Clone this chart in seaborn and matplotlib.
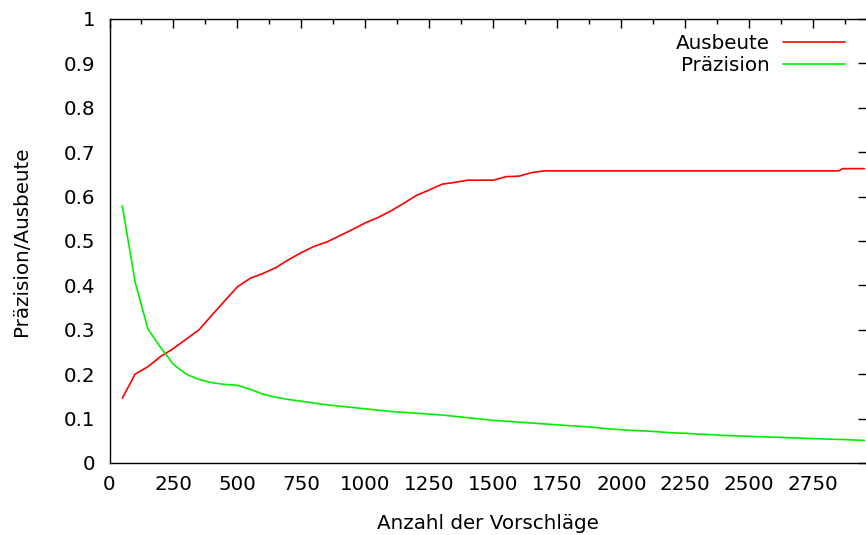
import matplotlib
matplotlib.use("Agg")
import matplotlib.pyplot as plt
import seaborn as sns
import pandas as pd
import numpy as np
from matplotlib.ticker import MultipleLocator, FuncFormatter

# Data
suggestions = [50, 100, 150, 200, 250, 300, 350, 400, 450, 500,
               550, 600, 650, 700, 750, 800, 850, 900, 950, 1000,
               1050, 1100, 1150, 1200, 1250, 1300, 1350, 1400, 1450, 1500,
               1550, 1600, 1650, 1700, 1750, 1800, 1850, 1900, 1950, 2000,
               2050, 2100, 2150, 2200, 2250, 2300, 2350, 2400, 2450, 2500,
               2550, 2600, 2650, 2700, 2750, 2800, 2850, 2865, 2900, 2950]

recall = [0.146, 0.200, 0.217, 0.240, 0.258, 0.279, 0.300, 0.333, 0.365, 0.397,
          0.416, 0.427, 0.440, 0.458, 0.474, 0.488, 0.498, 0.512, 0.526, 0.541,
          0.553, 0.568, 0.585, 0.603, 0.615, 0.628, 0.632, 0.637, 0.637, 0.637,
          0.645, 0.646, 0.654, 0.658, 0.658, 0.658, 0.658, 0.658, 0.658, 0.658,
          0.658, 0.658, 0.658, 0.658, 0.658, 0.658, 0.658, 0.658, 0.658, 0.658,
          0.658, 0.658, 0.658, 0.658, 0.658, 0.658, 0.658, 0.663, 0.663, 0.663]

precision = [0.579, 0.408, 0.302, 0.260, 0.222, 0.200, 0.188, 0.181, 0.177, 0.175,
             0.166, 0.155, 0.148, 0.143, 0.139, 0.135, 0.131, 0.128, 0.125, 0.122,
             0.119, 0.116, 0.114, 0.112, 0.110, 0.108, 0.105, 0.102, 0.099, 0.096,
             0.094, 0.092, 0.090, 0.088, 0.086, 0.084, 0.082, 0.080, 0.077, 0.075,
             0.073, 0.072, 0.070, 0.068, 0.067, 0.065, 0.064, 0.062, 0.061, 0.060,
             0.059, 0.058, 0.057, 0.056, 0.055, 0.054, 0.053, 0.053, 0.052, 0.051]

series_names = ["Ausbeute", "Präzision"]
series_colors = ["#ff0000", "#00ee00"]

df = pd.concat([
    pd.DataFrame({"x": suggestions, "y": recall, "Serie": series_names[0]}),
    pd.DataFrame({"x": suggestions, "y": precision, "Serie": series_names[1]}),
], ignore_index=True)

sns.set_style("white")
plt.rcParams["font.family"] = ["DejaVu Sans"]
plt.rcParams["text.color"] = "black"
plt.rcParams["axes.labelcolor"] = "black"
plt.rcParams["xtick.color"] = "black"
plt.rcParams["ytick.color"] = "black"

FS = 14.3
W, H = 866, 535
fig = plt.figure(figsize=(W / 100, H / 100), dpi=100)
ax = fig.add_axes([109.5 / W, 72 / H, (867 - 109.5) / W, 444 / H])

sns.lineplot(data=df, x="x", y="y", hue="Serie", palette=series_colors,
             linewidth=1.2, ax=ax, legend=True)

ax.set_xlim(0, 2960)
ax.set_ylim(0, 1)
ax.xaxis.set_major_locator(MultipleLocator(250))
ax.xaxis.set_minor_locator(MultipleLocator(125))
ax.yaxis.set_major_locator(MultipleLocator(0.1))
ax.yaxis.set_major_formatter(FuncFormatter(lambda v, p: "0" if abs(v) < 1e-9 else ("1" if abs(v - 1) < 1e-9 else f"{v:.1f}")))

for s in ax.spines.values():
    s.set_color("black")
    s.set_linewidth(1.0)
    s.set_visible(True)

ax.tick_params(axis="both", which="major", direction="in", length=6.5, width=1.0,
               labelsize=FS, top=True, right=True, colors="black")
ax.tick_params(axis="both", which="minor", direction="in", length=3.3, width=1.0,
               top=True, right=True, colors="black")
ax.tick_params(axis="y", which="major", pad=10)
ax.tick_params(axis="x", which="major", pad=9)

ax.set_xlabel("Anzahl der Vorschläge", fontsize=FS, labelpad=14, color="black")
ax.set_ylabel("Präzision/Ausbeute", fontsize=FS, labelpad=24, color="black")

leg = ax.legend(loc="upper right", frameon=False, markerfirst=False, fontsize=FS,
                handlelength=3.1, handletextpad=0.7, labelspacing=0.18,
                borderaxespad=0.0, bbox_to_anchor=((846 - 109.5 + 7) / (867 - 109.5), 0.985))
for t in leg.get_texts():
    t.set_ha("right")
    t.set_color("black")

fig.savefig("out.png", dpi=100)
